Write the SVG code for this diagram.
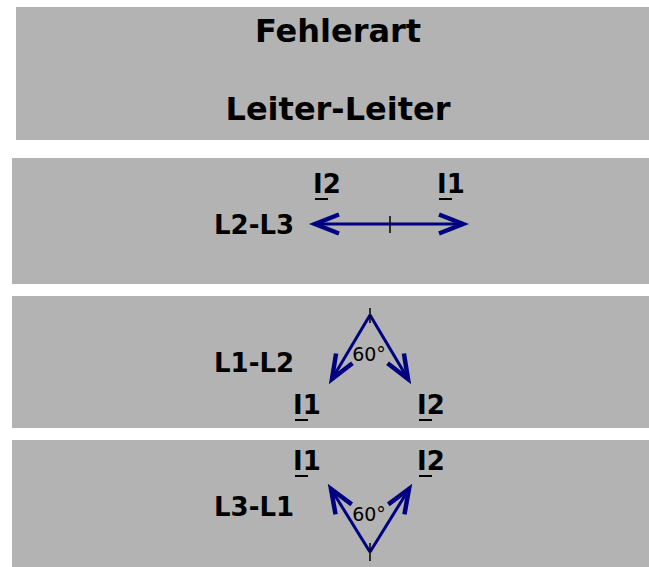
<svg xmlns="http://www.w3.org/2000/svg" width="649" height="567" viewBox="0 0 649 567">
<style>
.box{fill:#b3b3b3}
.t{font-family:"DejaVu Sans",sans-serif;font-weight:bold;fill:#000}
.title{font-size:32px;text-anchor:middle}
.lab{font-size:26px}
.ang{font-family:"DejaVu Sans",sans-serif;font-size:19px;fill:#000;text-anchor:middle}
.ul{stroke:#000;stroke-width:2}
.tick{stroke:#000;stroke-width:1.5}
.arr{stroke:#000080;stroke-width:3;fill:none;marker-end:url(#ah)}
</style>
<defs>
<marker id="ah" markerUnits="userSpaceOnUse" orient="auto-start-reverse" refX="0" refY="0" markerWidth="40" markerHeight="40" overflow="visible">
<path d="M -24 -9.5 L 0 0 L -24 9.5" fill="none" stroke="#000080" stroke-width="4.5"/>
</marker>
</defs>
<rect width="649" height="567" fill="#fff"/>
<g id="header">
<rect class="box" x="16" y="7" width="633" height="133"/>
<text class="t title" x="338" y="42">Fehlerart</text>
<text class="t title" x="338" y="120">Leiter-Leiter</text>
</g>
<g id="row-l2l3">
<rect class="box" x="12" y="158" width="637" height="126"/>
<text class="t lab" x="214" y="234">L2-L3</text>
<text class="t lab" x="313" y="193">I2</text>
<line class="ul" x1="315" y1="199" x2="328" y2="199"/>
<text class="t lab" x="437" y="193">I1</text>
<line class="ul" x1="439" y1="199" x2="452" y2="199"/>
</g>
<g id="row-l1l2">
<rect class="box" x="12" y="296" width="637" height="132"/>
<text class="t lab" x="214" y="372">L1-L2</text>
<text class="t lab" x="293" y="414">I1</text>
<line class="ul" x1="295" y1="420" x2="308" y2="420"/>
<text class="t lab" x="417" y="414">I2</text>
<line class="ul" x1="419" y1="420" x2="432" y2="420"/>
<text class="ang" x="369" y="361">60°</text>
</g>
<g id="row-l3l1">
<rect class="box" x="12" y="440" width="637" height="127"/>
<text class="t lab" x="214" y="516">L3-L1</text>
<text class="t lab" x="293" y="470">I1</text>
<line class="ul" x1="295" y1="476" x2="308" y2="476"/>
<text class="t lab" x="417" y="470">I2</text>
<line class="ul" x1="419" y1="476" x2="432" y2="476"/>
<text class="ang" x="369" y="521">60°</text>
</g>
<g id="connectors">
<line class="arr" x1="315" y1="224" x2="463" y2="224" style="marker-start:url(#ah)"/>
<line class="tick" x1="390" y1="216" x2="390" y2="233"/>
<line class="arr" x1="370" y1="315" x2="332" y2="379"/>
<line class="arr" x1="370" y1="315" x2="408" y2="379"/>
<line class="tick" x1="370" y1="308" x2="370" y2="323"/>
<line class="arr" x1="370" y1="552" x2="331" y2="489"/>
<line class="arr" x1="370" y1="552" x2="409" y2="489"/>
<line class="tick" x1="370" y1="543" x2="370" y2="561"/>
</g>
</svg>
